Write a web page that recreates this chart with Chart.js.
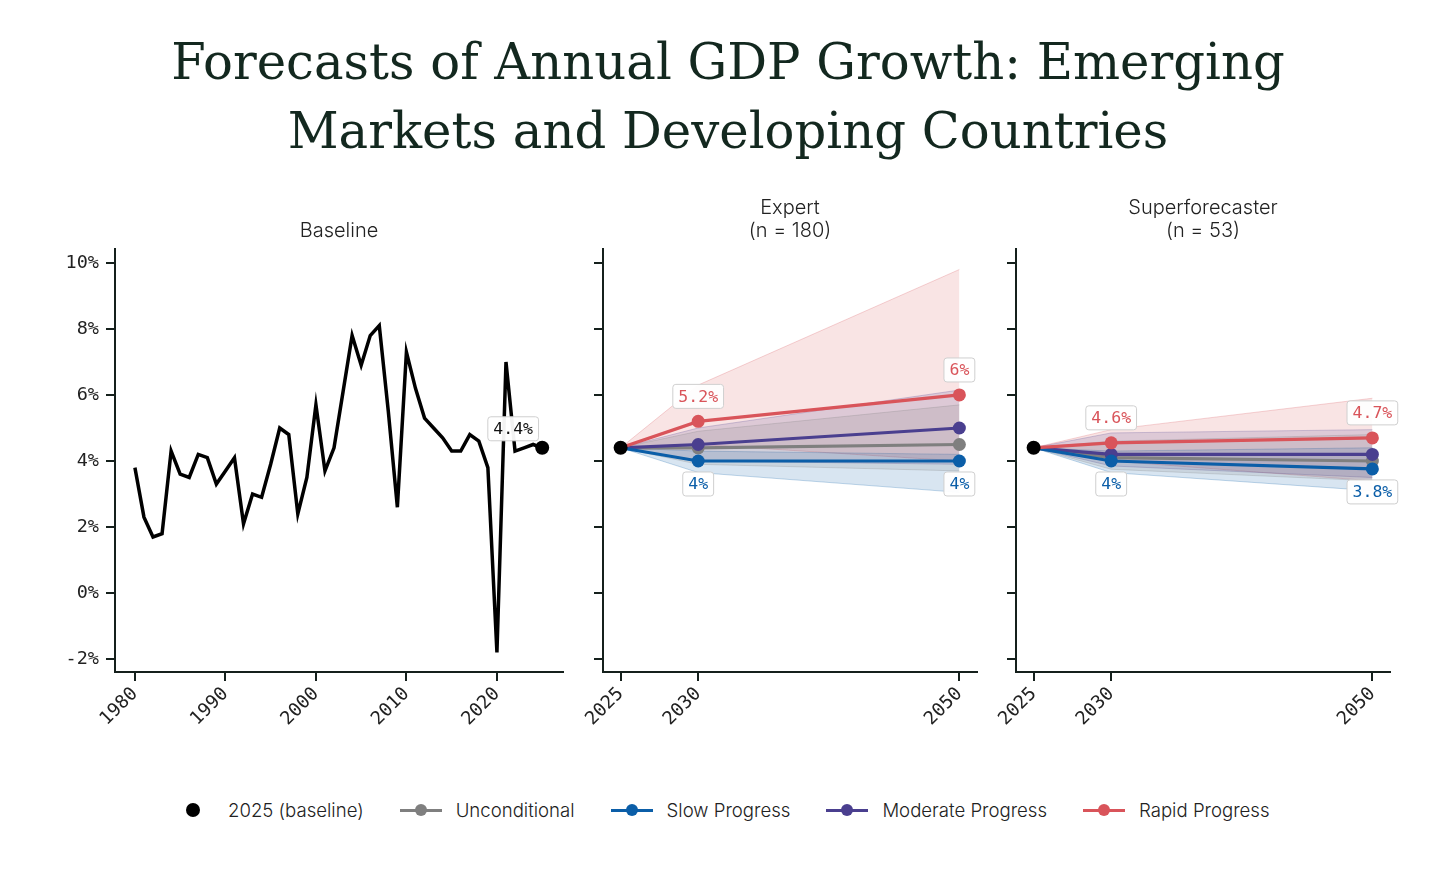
<!DOCTYPE html>
<html>
<head>
<meta charset="utf-8">
<script src="https://cdn.jsdelivr.net/npm/chart.js@4.4.1/dist/chart.umd.min.js"></script>
<style>
  body { margin: 0; background: #fff; width: 1456px; height: 879px; position: relative; overflow: hidden; }
  #title {
    position: absolute; left: 0; top: 28px; width: 1456px; text-align: center;
    font-family: "DejaVu Serif", serif; font-size: 49.7px; line-height: 69px; color: #13281f;
  }
  canvas { position: absolute; }
  #legend {
    position: absolute; left: 172px; top: 798px; height: 24px; display: flex; align-items: center;
    font-family: "Inter", sans-serif; font-size: 18.6px; color: #222; font-weight: 300;
  }
  .item { display: flex; align-items: center; margin-right: 36px; }
  .mark { position: relative; width: 42px; height: 24px; margin-right: 14px; }
  .mark .ln { position: absolute; left: 0; right: 0; top: 10.5px; height: 3px; }
  .mark .dt { position: absolute; left: 15px; top: 6px; width: 12px; height: 12px; border-radius: 50%; }
  .mark .big { left: 14px; top: 5px; width: 14px; height: 14px; }
</style>
</head>
<body>
<div id="title">Forecasts of Annual GDP Growth: Emerging<br>Markets and Developing Countries</div>
<canvas id="baseline" width="580" height="590" style="left:0px;top:180px"></canvas>
<canvas id="expert" width="430" height="590" style="left:570px;top:180px"></canvas>
<canvas id="super" width="420" height="590" style="left:990px;top:180px"></canvas>
<div id="legend"></div>
<script>
// historical growth, % per year
const baselineYears = [1980, 1981, 1982, 1983, 1984, 1985, 1986, 1987, 1988, 1989,
  1990, 1991, 1992, 1993, 1994, 1995, 1996, 1997, 1998, 1999,
  2000, 2001, 2002, 2003, 2004, 2005, 2006, 2007, 2008, 2009,
  2010, 2011, 2012, 2013, 2014, 2015, 2016, 2017, 2018, 2019,
  2020, 2021, 2022, 2023, 2024, 2025];
const baselineGrowth = [3.8, 2.3, 1.7, 1.8, 4.3, 3.6, 3.5, 4.2, 4.1, 3.3,
  3.7, 4.1, 2.1, 3.0, 2.9, 3.9, 5.0, 4.8, 2.4, 3.5,
  5.7, 3.7, 4.4, 6.1, 7.8, 6.9, 7.8, 8.1, 5.5, 2.6,
  7.3, 6.2, 5.3, 5.0, 4.7, 4.3, 4.3, 4.8, 4.6, 3.8,
  -1.8, 7.0, 4.3, 4.4, 4.5, 4.4];
const baseline2025 = 4.4;

const forecastYears = [2025, 2030, 2050];

// expert medians and ranges
const expertUnconditional = [4.4, 4.4, 4.5];
const expertSlow = [4.4, 4.0, 4.0];
const expertModerate = [4.4, 4.5, 5.0];
const expertRapid = [4.4, 5.2, 6.0];
const expertUnconditionalLow = [4.4, 3.9, 3.7];
const expertUnconditionalHigh = [4.4, 4.9, 5.7];
const expertSlowLow = [4.4, 3.65, 3.05];
const expertSlowHigh = [4.4, 4.3, 4.2];
const expertModerateLow = [4.4, 4.0, 3.9];
const expertModerateHigh = [4.4, 5.0, 6.15];
const expertRapidLow = [4.4, 4.5, 4.0];
const expertRapidHigh = [4.4, 6.3, 9.8];

// superforecaster medians and ranges
const superUnconditional = [4.4, 4.1, 4.0];
const superSlow = [4.4, 4.0, 3.76];
const superModerate = [4.4, 4.2, 4.2];
const superRapid = [4.4, 4.55, 4.7];
const superUnconditionalLow = [4.4, 3.75, 3.4];
const superUnconditionalHigh = [4.4, 4.6, 4.8];
const superSlowLow = [4.4, 3.65, 3.1];
const superSlowHigh = [4.4, 4.3, 4.4];
const superModerateLow = [4.4, 3.85, 3.5];
const superModerateHigh = [4.4, 4.85, 4.95];
const superRapidLow = [4.4, 4.0, 3.4];
const superRapidHigh = [4.4, 4.95, 5.9];

const yTicks = [-2, 0, 2, 4, 6, 8, 10];
const baselineTicks = [1980, 1990, 2000, 2010, 2020];
const forecastTicks = [2025, 2030, 2050];

const colors = {
  unconditional: "#7f7f7f",
  slow: "#0b5ea8",
  moderate: "#4a3f8f",
  rapid: "#d9545a",
};
const bandFill = {
  unconditional: "rgba(127,127,127,0.16)",
  slow: "rgba(11,94,168,0.16)",
  moderate: "rgba(74,63,143,0.16)",
  rapid: "rgba(217,84,90,0.16)",
};
const bandEdge = {
  unconditional: "rgba(127,127,127,0.25)",
  slow: "rgba(11,94,168,0.25)",
  moderate: "rgba(74,63,143,0.25)",
  rapid: "rgba(217,84,90,0.25)",
};

const axisColor = "#15201c";
const monoFont = { family: "DejaVu Sans Mono", size: 18.5 };

// linear scale whose spacing between knots can be stretched
class KnotScale extends Chart.LinearScale {
  static id = "knot";
  static defaults = Chart.LinearScale.defaults;
  warp(value) {
    const k = this.options.knots;
    const f = this.options.knotFrac;
    if (!k || value <= k[0] || value >= k[k.length - 1]) return value;
    const span = k[k.length - 1] - k[0];
    for (let i = 0; i < k.length - 1; i++) {
      if (value <= k[i + 1]) {
        const t = (value - k[i]) / (k[i + 1] - k[i]);
        return k[0] + (f[i] + t * (f[i + 1] - f[i])) * span;
      }
    }
    return value;
  }
  getPixelForValue(value) {
    return super.getPixelForValue(this.warp(value));
  }
}
Chart.register(KnotScale);

function pts(xs, ys) {
  return xs.map((x, i) => ({ x, y: ys[i] }));
}

function fmt(v) {
  return (Math.round(v * 10) / 10).toString() + "%";
}

// draws the little boxed value labels
const valueLabels = {
  id: "valueLabels",
  afterDatasetsDraw(chart) {
    const ctx = chart.ctx;
    chart.data.datasets.forEach((ds, i) => {
      if (!ds.labelIdx) return;
      const meta = chart.getDatasetMeta(i);
      ds.labelIdx.forEach((j) => {
        const el = meta.data[j];
        const text = fmt(ds.data[j].y);
        ctx.save();
        ctx.font = "16.5px 'DejaVu Sans Mono'";
        const w = ctx.measureText(text).width + 11;
        const h = 24;
        const cx = el.x + (ds.labelDx || 0);
        const cy = el.y + ds.labelDy;
        ctx.beginPath();
        ctx.roundRect(cx - w / 2, cy - h / 2, w, h, 3);
        ctx.fillStyle = "rgba(255,255,255,0.95)";
        ctx.fill();
        ctx.strokeStyle = "#cfcfcf";
        ctx.lineWidth = 1;
        ctx.stroke();
        ctx.fillStyle = ds.labelColor;
        ctx.textAlign = "center";
        ctx.textBaseline = "middle";
        ctx.fillText(text, cx, cy + 1);
        ctx.restore();
      });
    });
  },
};

// panel headings above the plot area
const panelTitle = {
  id: "panelTitle",
  afterDraw(chart, args, opts) {
    const ctx = chart.ctx;
    const cx = (chart.chartArea.left + chart.chartArea.right) / 2;
    ctx.save();
    ctx.font = "300 20px Inter";
    ctx.fillStyle = "#222";
    ctx.textAlign = "center";
    ctx.textBaseline = "middle";
    const lines = opts.lines;
    lines.forEach((t, k) => {
      ctx.fillText(t, cx, 51 - (lines.length - 1 - k) * 23);
    });
    ctx.restore();
  },
};

function scales(xType, xMin, xMax, xTicks, yWidth, showY) {
  return {
    x: {
      type: xType,
      min: xMin,
      max: xMax,
      knots: forecastTicks,
      knotFrac: [0, 0.229, 1],
      afterBuildTicks: (s) => { s.ticks = xTicks.map((v) => ({ value: v })); },
      afterFit: (s) => { s.height = 98; },
      border: { display: true, color: axisColor, width: 2 },
      grid: { drawOnChartArea: false, drawTicks: true, tickLength: 9, color: axisColor, lineWidth: 2 },
      ticks: {
        font: monoFont, color: "#222", padding: 2,
        minRotation: 45, maxRotation: 45, autoSkip: false,
        callback: (v) => String(v),
      },
    },
    y: {
      type: "linear",
      min: -2.39,
      max: 10.42,
      afterBuildTicks: (s) => { s.ticks = yTicks.map((v) => ({ value: v })); },
      afterFit: (s) => { s.width = yWidth; },
      border: { display: true, color: axisColor, width: 2 },
      grid: { drawOnChartArea: false, drawTicks: true, tickLength: 9, color: axisColor, lineWidth: 2 },
      ticks: {
        display: showY, font: monoFont, color: "#222", padding: 7,
        callback: (v) => v + "%",
      },
    },
  };
}

function baseOptions(padRight, titleLines, sc) {
  return {
    responsive: false,
    animation: false,
    devicePixelRatio: 1,
    layout: { padding: { top: 69, right: padRight, left: 0, bottom: 0 } },
    plugins: {
      legend: { display: false },
      tooltip: { enabled: false },
      panelTitle: { lines: titleLines },
    },
    elements: { line: { tension: 0 } },
    scales: sc,
  };
}

new Chart(document.getElementById("baseline"), {
  type: "line",
  data: {
    datasets: [
      {
        data: pts([2025], [baseline2025]),
        pointRadius: 7, pointBackgroundColor: "#000", pointBorderWidth: 0,
        showLine: false, order: 0,
        labelIdx: [0], labelDx: -29, labelDy: -19, labelColor: "#111",
      },
      {
        data: pts(baselineYears, baselineGrowth),
        borderColor: "#000", borderWidth: 3.5, pointRadius: 0, order: 1,
      },
    ],
  },
  options: baseOptions(17, ["Baseline"], scales("linear", 1977.8, 2027.3, baselineTicks, 115, true)),
  plugins: [valueLabels, panelTitle],
});

function forecastDatasets(s) {
  const keys = ["unconditional", "moderate", "slow", "rapid"];
  const ds = [];
  keys.forEach((k) => {
    const low = ds.length;
    ds.push({
      data: pts(forecastYears, s[k + "Low"]),
      borderColor: bandEdge[k], borderWidth: 1, pointRadius: 0, fill: false, order: 10,
    });
    ds.push({
      data: pts(forecastYears, s[k + "High"]),
      borderColor: bandEdge[k], borderWidth: 1, pointRadius: 0,
      fill: { target: low }, backgroundColor: bandFill[k], order: 10,
    });
  });
  keys.forEach((k, n) => {
    const d = {
      data: pts(forecastYears, s[k]),
      borderColor: colors[k], borderWidth: 3.2,
      pointRadius: [0, 6.5, 6.5], pointBackgroundColor: colors[k], pointBorderWidth: 0,
      fill: false, order: 5 - n,
    };
    if (k === "rapid") Object.assign(d, { labelIdx: [1, 2], labelDy: -25, labelColor: colors.rapid });
    if (k === "slow") Object.assign(d, { labelIdx: [1, 2], labelDy: 23, labelColor: colors.slow });
    ds.push(d);
  });
  ds.push({
    data: pts([2025], [baseline2025]),
    pointRadius: 7, pointBackgroundColor: "#000", pointBorderWidth: 0, showLine: false, order: 0,
  });
  return ds;
}

new Chart(document.getElementById("expert"), {
  type: "line",
  data: {
    datasets: forecastDatasets({
      unconditional: expertUnconditional, unconditionalLow: expertUnconditionalLow, unconditionalHigh: expertUnconditionalHigh,
      slow: expertSlow, slowLow: expertSlowLow, slowHigh: expertSlowHigh,
      moderate: expertModerate, moderateLow: expertModerateLow, moderateHigh: expertModerateHigh,
      rapid: expertRapid, rapidLow: expertRapidLow, rapidHigh: expertRapidHigh,
    }),
  },
  options: baseOptions(23, ["Expert", "(n = 180)"], scales("knot", 2023.7, 2051.3, forecastTicks, 33, false)),
  plugins: [valueLabels, panelTitle],
});

new Chart(document.getElementById("super"), {
  type: "line",
  data: {
    datasets: forecastDatasets({
      unconditional: superUnconditional, unconditionalLow: superUnconditionalLow, unconditionalHigh: superUnconditionalHigh,
      slow: superSlow, slowLow: superSlowLow, slowHigh: superSlowHigh,
      moderate: superModerate, moderateLow: superModerateLow, moderateHigh: superModerateHigh,
      rapid: superRapid, rapidLow: superRapidLow, rapidHigh: superRapidHigh,
    }),
  },
  options: baseOptions(20, ["Superforecaster", "(n = 53)"], scales("knot", 2023.7, 2051.3, forecastTicks, 26, false)),
  plugins: [valueLabels, panelTitle],
});

// legend
const legendItems = [
  { label: "2025 (baseline)", color: "#000", line: false },
  { label: "Unconditional", color: colors.unconditional, line: true },
  { label: "Slow Progress", color: colors.slow, line: true },
  { label: "Moderate Progress", color: colors.moderate, line: true },
  { label: "Rapid Progress", color: colors.rapid, line: true },
];
const legend = document.getElementById("legend");
legendItems.forEach((it) => {
  const item = document.createElement("div");
  item.className = "item";
  const mark = document.createElement("div");
  mark.className = "mark";
  if (it.line) {
    const ln = document.createElement("div");
    ln.className = "ln";
    ln.style.background = it.color;
    mark.appendChild(ln);
  }
  const dt = document.createElement("div");
  dt.className = it.line ? "dt" : "dt big";
  dt.style.background = it.color;
  mark.appendChild(dt);
  const txt = document.createElement("span");
  txt.textContent = it.label;
  item.appendChild(mark);
  item.appendChild(txt);
  legend.appendChild(item);
});
</script>
</body>
</html>
